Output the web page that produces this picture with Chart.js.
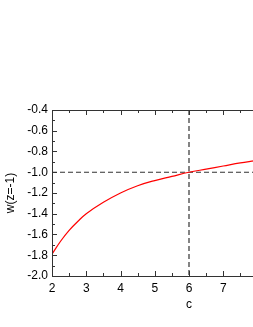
<!DOCTYPE html>
<html>
<head>
<meta charset="utf-8">
<script src="https://cdn.jsdelivr.net/npm/chart.js@4"></script>
<style>
  html, body {
    margin: 0;
    padding: 0;
    overflow: hidden;
    background: #fff;
  }
  #wrap {
    width: 253px;
    height: 327px;
    overflow: hidden;
  }
</style>
</head>
<body>
<div id="wrap">
  <canvas id="chart" width="340" height="327"></canvas>
</div>
<script>
// curve
var cValues = [2, 2.25, 2.5, 2.75, 3, 3.5, 4, 4.5, 5, 5.5, 6, 6.5, 7, 7.5, 7.9];
var wValues = [-1.79, -1.665, -1.56, -1.475, -1.40, -1.29, -1.20, -1.13, -1.08, -1.04, -1.00, -0.97, -0.94, -0.91, -0.89];

// dashed guide lines
var refC = 6;
var refW = -1.0;

var xRange = [2, 10];
var yRange = [-2.0, -0.4];

var curve = cValues.map(function (c, i) { return {x: c, y: wValues[i]}; });

// inward ticks + frame, like the origin-style axes
var frame = {
  id: 'frame',
  afterDatasetsDraw: function (chart) {
    var ctx = chart.ctx, a = chart.chartArea;
    var xs = chart.scales.x, ys = chart.scales.y;
    ctx.save();
    ctx.strokeStyle = '#333';
    ctx.lineWidth = 1;
    ctx.strokeRect(a.left + 0.5, a.top + 0.5, a.right - a.left, a.bottom - a.top);
    ctx.beginPath();
    var v, p, len;
    for (v = xRange[0]; v <= xRange[1] + 1e-6; v += 0.5) {
      p = Math.round(xs.getPixelForValue(v)) + 0.5;
      len = Math.abs(v - Math.round(v)) < 1e-6 ? 5 : 3;
      ctx.moveTo(p, a.bottom); ctx.lineTo(p, a.bottom - len);
      ctx.moveTo(p, a.top); ctx.lineTo(p, a.top + len);
    }
    for (v = yRange[0]; v <= yRange[1] + 1e-6; v += 0.1) {
      p = Math.round(ys.getPixelForValue(v)) + 0.5;
      len = Math.round(v * 10) % 2 === 0 ? 5 : 3;
      ctx.moveTo(a.left, p); ctx.lineTo(a.left + len, p);
      ctx.moveTo(a.right, p); ctx.lineTo(a.right - len, p);
    }
    ctx.stroke();
    ctx.restore();
  }
};

var font = {family: 'Liberation Sans, Arial, sans-serif', size: 12};

new Chart(document.getElementById('chart').getContext('2d'), {
  type: 'scatter',
  data: {
    datasets: [{
      data: curve,
      showLine: true,
      borderColor: '#ff0000',
      borderWidth: 1.2,
      pointRadius: 0,
      tension: 0.4
    }, {
      data: [{x: xRange[0], y: refW}, {x: xRange[1], y: refW}],
      showLine: true,
      borderColor: '#333',
      borderWidth: 1.2,
      borderDash: [5, 3],
      pointRadius: 0
    }, {
      data: [{x: refC, y: yRange[1]}, {x: refC, y: yRange[0]}],
      showLine: true,
      borderColor: '#333',
      borderWidth: 1.2,
      borderDash: [5, 3],
      pointRadius: 0
    }]
  },
  options: {
    responsive: false,
    devicePixelRatio: 1,
    animation: false,
    layout: {padding: {top: 110, right: 14, left: 0, bottom: 0}},
    plugins: {legend: {display: false}, tooltip: {enabled: false}},
    scales: {
      x: {
        type: 'linear',
        min: xRange[0],
        max: xRange[1],
        grid: {display: false, drawTicks: false},
        border: {display: false},
        ticks: {stepSize: 1, color: '#000', font: font, padding: 5, maxRotation: 0},
        title: {display: true, text: 'c', color: '#000', font: font, padding: {top: 0, bottom: 15}},
        afterFit: function (s) { s.height = 51; }
      },
      y: {
        type: 'linear',
        min: yRange[0],
        max: yRange[1],
        grid: {display: false, drawTicks: false},
        border: {display: false},
        ticks: {
          stepSize: 0.2,
          color: '#000',
          font: font,
          padding: 4,
          callback: function (v) { return v.toFixed(1); }
        },
        title: {display: true, text: 'w(z=-1)', color: '#000', font: font, padding: {top: 3, bottom: 0}},
        afterFit: function (s) { s.width = 52; }
      }
    }
  },
  plugins: [frame]
});
</script>
</body>
</html>
